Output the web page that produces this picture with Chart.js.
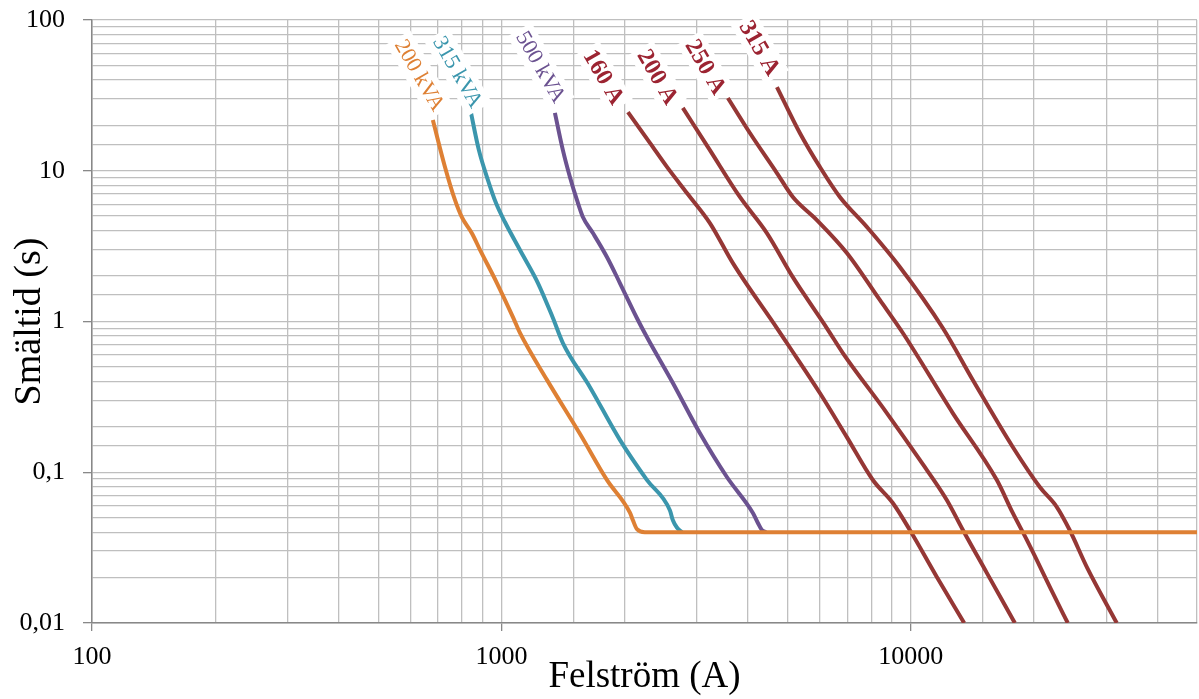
<!DOCTYPE html>
<html>
<head>
<meta charset="utf-8">
<script src="https://cdn.jsdelivr.net/npm/chart.js@4.4.1/dist/chart.umd.min.js"></script>
<style>
  html, body { margin: 0; padding: 0; background: #fff; }
  #wrap { width: 1199px; height: 699px; }
</style>
</head>
<body>
<div id="wrap"><canvas id="fuseChart"></canvas></div>
<script>
// felström (A) / smältid (s)
var kva200I = [680, 728, 770, 801, 847, 886, 975, 1067, 1110, 1292, 1555, 1810, 2060, 2095, 2142, 2240, 50000];
var kva200T = [21.7, 10.6, 6.4, 4.9, 3.85, 3.0, 1.8, 1.07, 0.84, 0.41, 0.18, 0.089, 0.054, 0.048, 0.042, 0.04, 0.04];

var kva315I = [838, 881, 927, 970, 1020, 1110, 1228, 1336, 1413, 1644, 1947, 2266, 2579, 2623, 2683, 2760];
var kva315T = [26.1, 13.7, 8.68, 6.11, 4.57, 2.98, 1.8, 1.055, 0.72, 0.368, 0.164, 0.089, 0.056, 0.048, 0.043, 0.04];

var kva500I = [1351, 1413, 1470, 1529, 1581, 1673, 1810, 1947, 2142, 2266, 2623, 3052, 3554, 4114, 4231, 4327, 4426];
var kva500T = [24.2, 13.7, 9.09, 6.4, 4.93, 3.86, 2.68, 1.8, 1.055, 0.789, 0.391, 0.182, 0.093, 0.0537, 0.0461, 0.0414, 0.04];

var a160I = [2037, 2305, 2537, 2838, 3230, 3676, 4709, 4980, 5995, 6978, 8077, 9036, 9944, 11575, 13500];
var a160T = [24.5, 15.3, 10.6, 7.12, 4.5, 2.44, 0.905, 0.72, 0.3355, 0.171, 0.0888, 0.0625, 0.0414, 0.0202, 0.01];

var a200I = [2774, 3230, 3823, 4450, 5150, 5604, 6234, 6823, 8738, 10520, 12240, 13400, 15330, 17950];
var a200T = [26.1, 13.7, 6.7, 3.86, 1.97, 1.39, 0.905, 0.618, 0.247, 0.1206, 0.0655, 0.0414, 0.0215, 0.01];

var a250I = [3574, 4045, 4709, 5150, 5895, 6978, 8400, 9561, 12660, 16220, 17740, 19200, 22230, 24170];
var a250T = [30.4, 17.8, 9.66, 6.7, 4.71, 2.85, 1.39, 0.839, 0.247, 0.0888, 0.0537, 0.0356, 0.0158, 0.01];

var a315I = [4709, 5357, 5995, 6708, 7807, 9400, 11970, 14170, 17740, 20650, 22730, 24430, 26910, 31840];
var a315T = [35.9, 17.8, 10.6, 6.7, 4.24, 2.3, 0.905, 0.409, 0.147, 0.0798, 0.0588, 0.0414, 0.0235, 0.01];

var xTickLabels = ['100', '1000', '10000'];
var yTickLabels = ['0,01', '0,1', '1', '10', '100'];

function pts(xs, ys) {
    return xs.map(function (x, i) { return { x: x, y: ys[i] }; });
}

function isDecade(v) {
    var lg = Math.log10(v);
    return Math.abs(lg - Math.round(lg)) < 1e-9;
}

// rotated labels with white box at the top of each curve
var curveLabels = {
    id: 'curveLabels',
    afterDatasetsDraw: function (chart) {
        var ctx = chart.ctx;
        chart.data.datasets.forEach(function (ds, i) {
            var p = chart.getDatasetMeta(i).data[0];
            ctx.save();
            ctx.translate(p.x + ds.labelOffset[0], p.y + ds.labelOffset[1]);
            ctx.rotate(Math.PI / 3);
            ctx.font = ds.labelFont;
            var w = ctx.measureText(ds.label).width;
            ctx.fillStyle = '#fff';
            ctx.fillRect(-w / 2 - 4, -14, w + 8, 28);
            ctx.fillStyle = ds.labelColor;
            ctx.textAlign = 'center';
            ctx.textBaseline = 'middle';
            ctx.fillText(ds.label, 0, 1);
            ctx.restore();
        });
    }
};

var orange = '#DE8034', teal = '#3B96AD', purple = '#6B5290', red = '#953735';
var kvaFont = '22px "Liberation Serif"';
var ampFont = 'bold 24px "Liberation Serif"';

function line(label, xs, ys, color, labelColor, font, off) {
    return {
        label: label,
        data: pts(xs, ys),
        borderColor: color,
        borderWidth: 4,
        pointRadius: 0,
        fill: false,
        cubicInterpolationMode: 'monotone',
        labelColor: labelColor,
        labelFont: font,
        labelOffset: off
    };
}

var ctx = document.getElementById('fuseChart').getContext('2d');
var chart = new Chart(ctx, {
    type: 'line',
    data: {
        datasets: [
            line('200 kVA', kva200I, kva200T, orange, orange, kvaFont, [-13, -45]),
            line('315 kVA', kva315I, kva315T, teal, teal, kvaFont, [-12, -36]),
            line('500 kVA', kva500I, kva500T, purple, purple, kvaFont, [-14, -46]),
            line('160 A', a160I, a160T, red, '#9c2432', ampFont, [-24, -35]),
            line('200 A', a200I, a200T, red, '#9c2432', ampFont, [-25, -31]),
            line('250 A', a250I, a250T, red, '#9c2432', ampFont, [-22, -31]),
            line('315 A', a315I, a315T, red, '#9c2432', ampFont, [-17, -39])
        ]
    },
    options: {
        responsive: true,
        maintainAspectRatio: false,
        animation: false,
        layout: { autoPadding: false, padding: { top: 20, right: 2, left: 0, bottom: 0 } },
        plugins: {
            legend: { display: false },
            tooltip: { enabled: false }
        },
        scales: {
            x: {
                type: 'logarithmic',
                min: 100,
                max: 50000,
                afterFit: function (s) { s.height = 76; s.paddingLeft = 0; s.paddingRight = 0; },
                grid: {
                    color: '#bfbfbf',
                    lineWidth: 1.3,
                    tickLength: 8,
                    tickColor: function (c) { return c.tick && isDecade(c.tick.value) ? '#888' : 'rgba(0,0,0,0)'; }
                },
                border: { color: '#888', width: 1.5 },
                ticks: {
                    autoSkip: false,
                    maxRotation: 0,
                    padding: 11,
                    color: '#000',
                    font: { family: 'Liberation Serif', size: 26 },
                    callback: function (v) {
                        if (!isDecade(v)) return '';
                        var s = String(Math.round(v));
                        return xTickLabels.indexOf(s) >= 0 ? s : '';
                    }
                },
                title: {
                    display: true,
                    text: 'Felström (A)',
                    color: '#000',
                    font: { family: 'Liberation Serif', size: 37 },
                    padding: { top: 0, bottom: 0 }
                }
            },
            y: {
                type: 'logarithmic',
                min: 0.01,
                max: 100,
                afterFit: function (s) { s.width = 92; s.paddingTop = 0; s.paddingBottom = 0; },
                grid: {
                    color: '#bfbfbf',
                    lineWidth: 1.3,
                    tickLength: 9,
                    tickColor: function (c) { return c.tick && isDecade(c.tick.value) ? '#888' : 'rgba(0,0,0,0)'; }
                },
                border: { color: '#888', width: 1.5 },
                ticks: {
                    autoSkip: false,
                    padding: 18,
                    color: '#000',
                    font: { family: 'Liberation Serif', size: 26 },
                    callback: function (v) {
                        if (!isDecade(v)) return '';
                        var s = String(v).replace('.', ',');
                        return yTickLabels.indexOf(s) >= 0 ? s : '';
                    }
                },
                title: {
                    display: true,
                    text: 'Smältid (s)',
                    color: '#000',
                    font: { family: 'Liberation Serif', size: 38 },
                    padding: { top: 7, bottom: 0 }
                }
            }
        }
    },
    plugins: [curveLabels]
});
</script>
</body>
</html>
